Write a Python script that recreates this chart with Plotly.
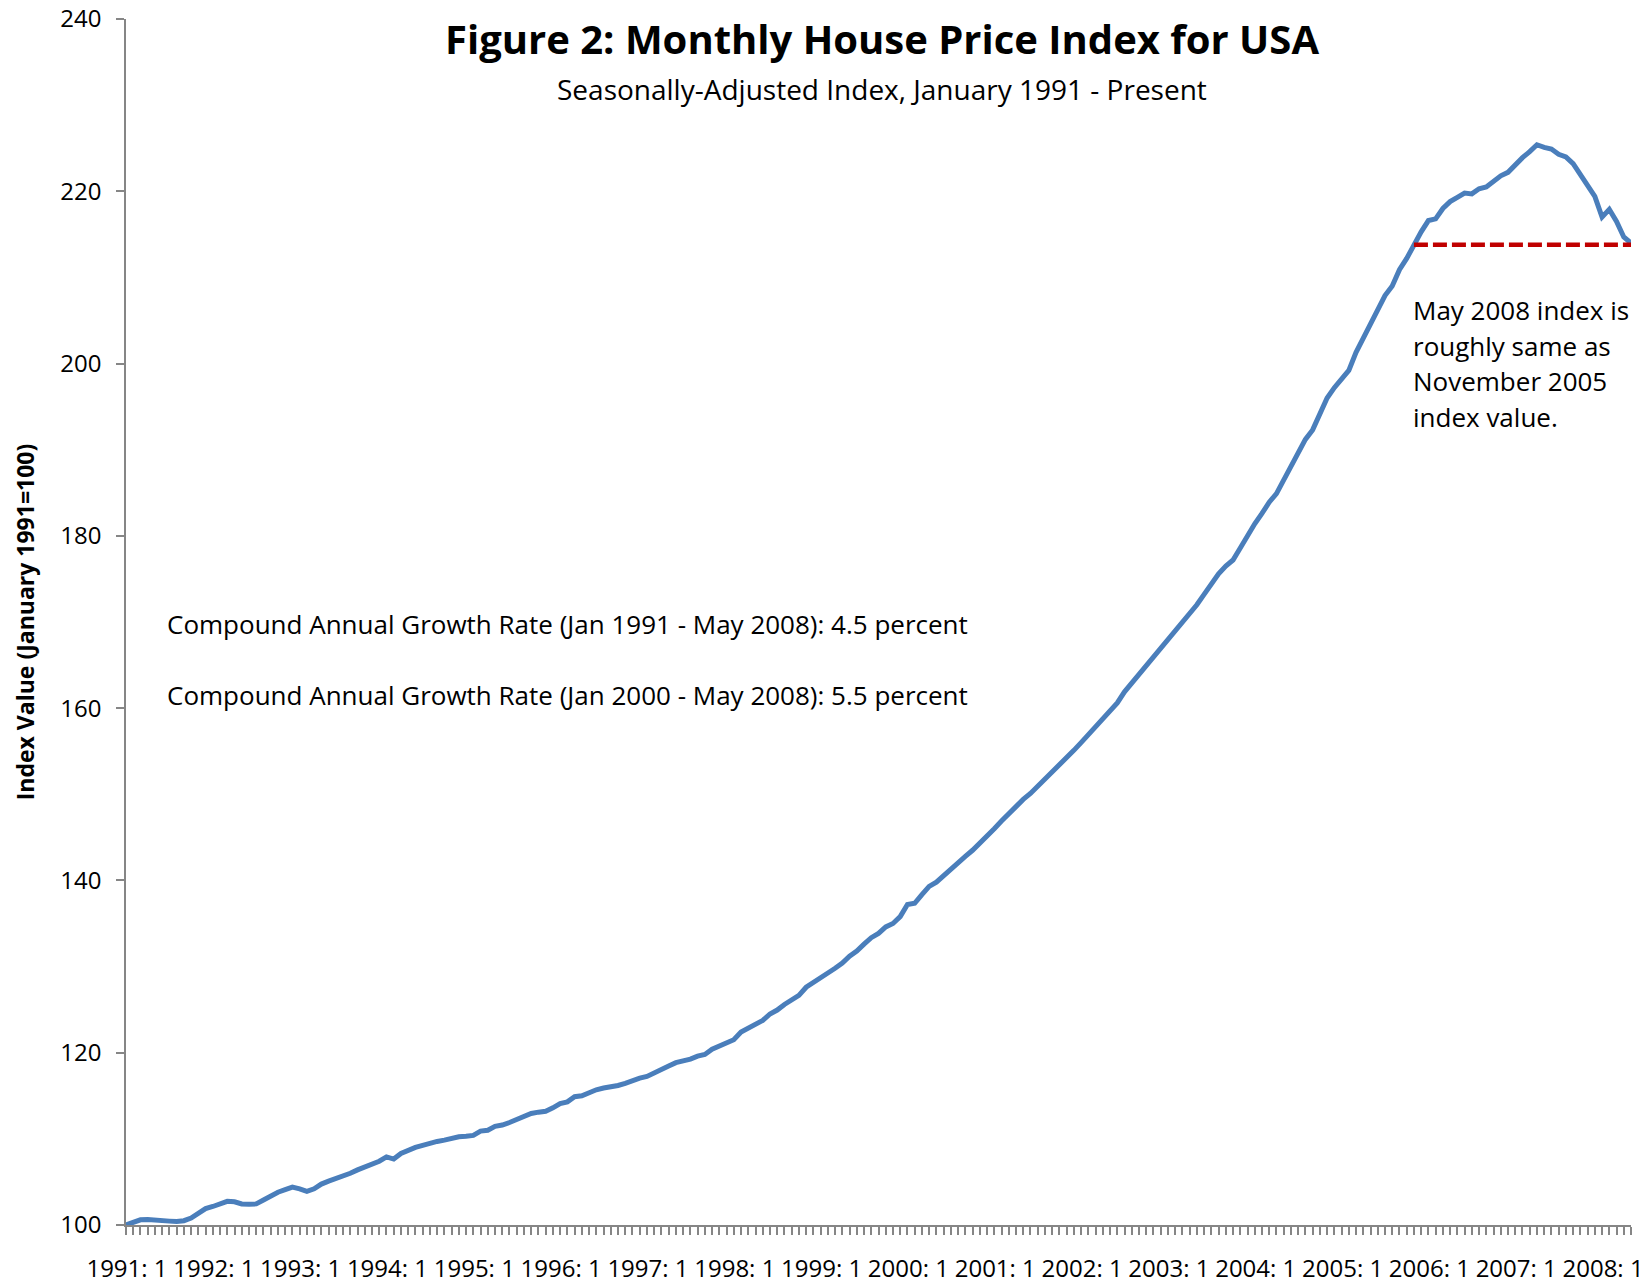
import plotly.graph_objects as go

# Monthly seasonally-adjusted house price index (Jan 1991 = 100)
hpi_1991 = [100.0, 100.35, 100.6, 100.65, 100.55, 100.55, 100.45, 100.4, 100.5, 100.8, 101.3, 101.9]
hpi_1992 = [102.15, 102.4, 102.75, 102.7, 102.45, 102.4, 102.45, 102.9, 103.4, 103.8, 104.1, 104.4]
hpi_1993 = [104.2, 103.9, 104.2, 104.75, 105.1, 105.4, 105.6, 106.0, 106.4, 106.7, 107.05, 107.4]
hpi_1994 = [107.9, 107.65, 108.3, 108.7, 109.0, 109.25, 109.5, 109.7, 109.85, 110.1, 110.25, 110.3]
hpi_1995 = [110.4, 110.9, 111.0, 111.45, 111.6, 111.9, 112.3, 112.6, 112.95, 113.1, 113.2, 113.6]
hpi_1996 = [114.1, 114.3, 114.9, 115.0, 115.4, 115.7, 115.9, 116.0, 116.2, 116.45, 116.8, 117.05]
hpi_1997 = [117.25, 117.6, 118.0, 118.45, 118.85, 119.0, 119.25, 119.6, 119.8, 120.4, 120.75, 121.1]
hpi_1998 = [121.5, 122.4, 122.85, 123.45, 123.75, 124.5, 124.95, 125.6, 126.2, 126.65, 127.6, 128.1]
hpi_1999 = [128.7, 129.25, 129.8, 130.4, 131.2, 131.8, 132.6, 133.35, 133.85, 134.6, 135.0, 135.8]
hpi_2000 = [137.2, 137.35, 138.35, 139.3, 139.8, 140.6, 141.3, 142.0, 142.8, 143.5, 144.3, 145.1]
hpi_2001 = [146.0, 146.9, 147.8, 148.6, 149.4, 150.1, 150.9, 151.7, 152.6, 153.4, 154.2, 155.1]
hpi_2002 = [156.0, 156.9, 157.7, 158.6, 159.6, 160.6, 161.9, 162.9, 164.0, 165.1, 166.1, 167.1]
hpi_2003 = [168.1, 169.1, 170.1, 171.1, 172.0, 173.2, 174.4, 175.6, 176.5, 177.2, 178.6, 180.1]
hpi_2004 = [181.4, 182.6, 183.9, 184.9, 186.5, 188.2, 189.9, 191.2, 192.3, 194.2, 196.0, 197.2]
hpi_2005 = [198.3, 199.2, 201.3, 202.9, 204.4, 206.0, 207.9, 209.0, 210.9, 212.2, 213.8, 215.3]
hpi_2006 = [216.6, 216.8, 218.0, 218.8, 219.3, 219.8, 219.7, 220.3, 220.5, 221.1, 221.8, 222.2]
hpi_2007 = [223.1, 223.9, 224.6, 225.4, 225.1, 224.9, 224.3, 224.0, 223.2, 222.0, 220.6, 219.4]
hpi_2008 = [217.0, 217.9, 216.5, 214.7, 214.0]

years = list(range(1991, 2009))
yearly = [hpi_1991, hpi_1992, hpi_1993, hpi_1994, hpi_1995, hpi_1996, hpi_1997, hpi_1998,
          hpi_1999, hpi_2000, hpi_2001, hpi_2002, hpi_2003, hpi_2004, hpi_2005, hpi_2006,
          hpi_2007, hpi_2008]

months = []
values = []
for yr, vals in zip(years, yearly):
    for m, v in enumerate(vals, start=1):
        months.append(f"{yr}: {m}")
        values.append(v)

tick_text = [lab if lab.endswith(": 1") else "" for lab in months]

# reference line: from November 2005 at its index value to the last month
ref_start = "2005: 11"
ref_end = months[-1]
ref_value = values[months.index(ref_start)]

FONT = "Open Sans"
GREY = "#868686"

fig = go.Figure()
fig.add_trace(go.Scatter(
    x=months, y=values, mode="lines",
    line=dict(color="#4A7EBB", width=5),
    showlegend=False, hoverinfo="x+y",
))
fig.add_trace(go.Scatter(
    x=[ref_start, ref_end], y=[ref_value, ref_value], mode="lines",
    line=dict(color="#C00000", width=4.5, dash="14px,5px"),
    showlegend=False,
))

# page has an 8px body margin, so the figure is offset by 8px
OFF = 8
W, H = 1647 - OFF, 1281 - OFF
PLOT_L, PLOT_R, PLOT_T, PLOT_B = 126, 1631, 19, 1225   # plot area in page pixels
L, T = PLOT_L - OFF, PLOT_T - OFF
R, B = W - (PLOT_R - OFF), H - (PLOT_B - OFF)
pw, ph = PLOT_R - PLOT_L, PLOT_B - PLOT_T

def px_x(px):
    return (px - PLOT_L) / pw

def px_y(py):
    return (PLOT_B - py) / ph

fig.update_layout(
    width=W, height=H,
    margin=dict(l=L, r=R, t=T, b=B),
    paper_bgcolor="white", plot_bgcolor="white",
    font=dict(family=FONT, size=24, color="black"),
    title=dict(
        text="<b>Figure 2: Monthly House Price Index for USA</b>",
        x=(882 - OFF) / W, xanchor="center",
        y=1 - (40 - OFF) / H, yanchor="middle",
        font=dict(family=FONT, size=40, color="black"),
    ),
    xaxis=dict(
        type="category",
        categoryorder="array", categoryarray=months,
        range=[0, len(months) - 1],
        tickmode="array", tickvals=months, ticktext=tick_text,
        tickangle=0,
        ticks="outside", ticklen=8, tickwidth=1.5, tickcolor=GREY,
        showline=True, linecolor=GREY, linewidth=1.5,
        showgrid=False, zeroline=False,
        tickfont=dict(family=FONT, size=24, color="black"),
        ticklabelstandoff=13,
        ticklabelshift=1,
        ticklabeloverflow="allow",
        automargin=False,
    ),
    yaxis=dict(
        range=[100, 240], dtick=20, tick0=100,
        ticks="outside", ticklen=8, tickwidth=1.5, tickcolor=GREY,
        showline=True, linecolor=GREY, linewidth=1.5,
        showgrid=False, zeroline=False,
        tickfont=dict(family=FONT, size=24, color="black"),
        ticklabelstandoff=10,
        ticklabeloverflow="allow",
        title=dict(text="<b>Index Value (January 1991=100)</b>",
                   font=dict(family=FONT, size=23, color="black"),
                   standoff=19),
        automargin=False,
    ),
)

fig.add_annotation(
    text="Seasonally-Adjusted Index, January 1991 - Present",
    xref="paper", yref="paper", x=px_x(882), y=px_y(89),
    xanchor="center", yanchor="middle", showarrow=False,
    font=dict(family=FONT, size=28, color="black"),
)
fig.add_annotation(
    text="Compound Annual Growth Rate (Jan 1991 - May 2008): 4.5 percent",
    xref="paper", yref="paper", x=px_x(165), y=px_y(624),
    xanchor="left", yanchor="middle", showarrow=False,
    font=dict(family=FONT, size=26, color="black"),
)
fig.add_annotation(
    text="Compound Annual Growth Rate (Jan 2000 - May 2008): 5.5 percent",
    xref="paper", yref="paper", x=px_x(165), y=px_y(695),
    xanchor="left", yanchor="middle", showarrow=False,
    font=dict(family=FONT, size=26, color="black"),
)
note_lines = ["May 2008 index is", "roughly same as", "November 2005", "index value."]
for k, line in enumerate(note_lines):
    fig.add_annotation(
        text=line, xref="paper", yref="paper",
        x=px_x(1411), y=px_y(310 + k * 35.7),
        xanchor="left", yanchor="middle", showarrow=False,
        font=dict(family=FONT, size=26, color="black"),
    )

fig.write_html("out.html")
